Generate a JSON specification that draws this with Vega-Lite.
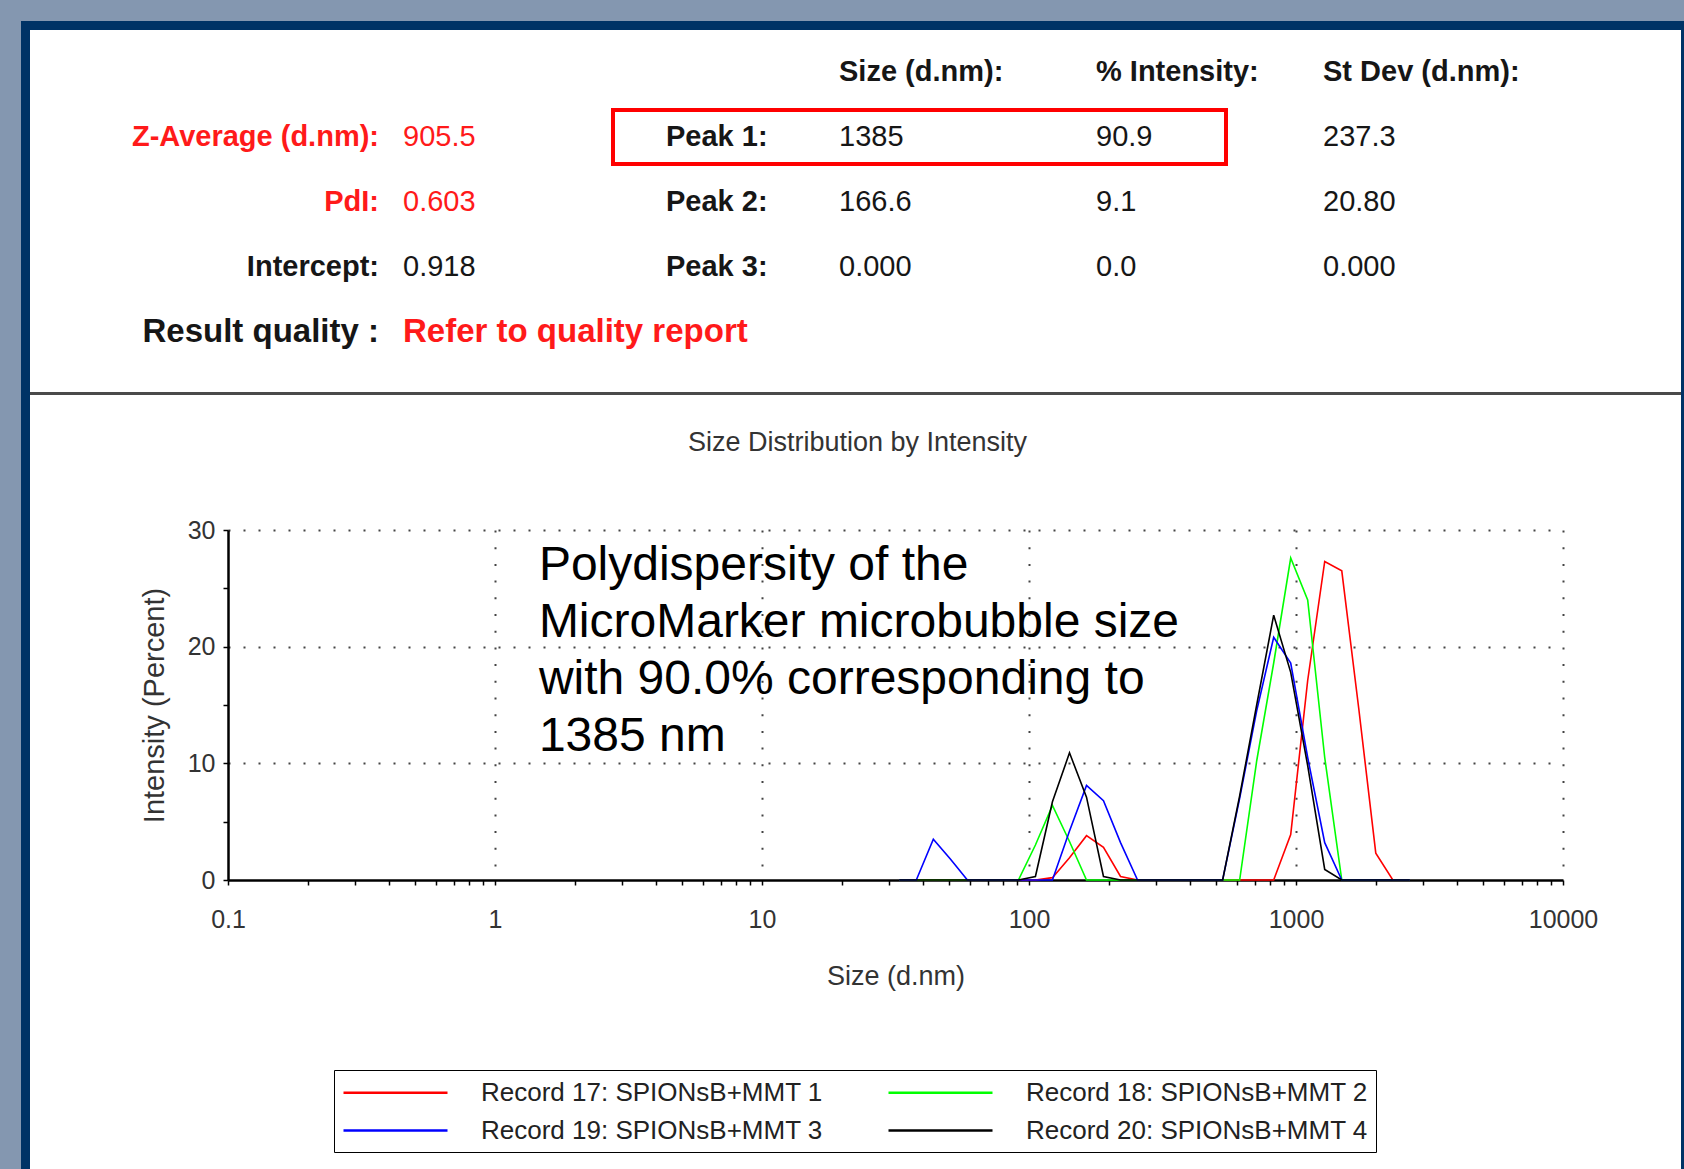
{
"$schema": "https://vega.github.io/schema/vega-lite/v6.json",
"background": "white",
"padding": 0,
"spacing": 0,
"config": {"view": {"stroke": null}, "font": "Liberation Sans", "concat": {"spacing": 0}},
"vconcat": [
 {"width": 1684, "height": 21, "data": {"values": []}, "mark": "point", "view": {"fill": "#8497b0", "stroke": null}},
 {"hconcat": [
  {"width": 21, "height": 1148, "data": {"values": []}, "mark": "point", "view": {"fill": "#8497b0", "stroke": null}},
  {"vconcat": [
   {"width": 1663, "height": 9, "data": {"values": []}, "mark": "point", "view": {"fill": "#003366", "stroke": null}},
   {"hconcat": [
    {"width": 9, "height": 1139, "data": {"values": []}, "mark": "point", "view": {"fill": "#003366", "stroke": null}},
    {"vconcat": [
     {"vconcat": [
      {
       "width": 1651, "height": 362,
       "data": {"values": [
        {"row":"hdr","col":"size","text":"Size (d.nm):","flag":"normal","role":"head"},
        {"row":"hdr","col":"intensity","text":"% Intensity:","flag":"normal","role":"head"},
        {"row":"hdr","col":"stdev","text":"St Dev (d.nm):","flag":"normal","role":"head"},
        {"row":"r1","col":"label","text":"Z-Average (d.nm):","flag":"alert","role":"head"},
        {"row":"r1","col":"value","text":"905.5","flag":"alert","role":"value"},
        {"row":"r1","col":"peak","text":"Peak 1:","flag":"normal","role":"head"},
        {"row":"r1","col":"size","text":"1385","flag":"normal","role":"value"},
        {"row":"r1","col":"intensity","text":"90.9","flag":"normal","role":"value"},
        {"row":"r1","col":"stdev","text":"237.3","flag":"normal","role":"value"},
        {"row":"r2","col":"label","text":"PdI:","flag":"alert","role":"head"},
        {"row":"r2","col":"value","text":"0.603","flag":"alert","role":"value"},
        {"row":"r2","col":"peak","text":"Peak 2:","flag":"normal","role":"head"},
        {"row":"r2","col":"size","text":"166.6","flag":"normal","role":"value"},
        {"row":"r2","col":"intensity","text":"9.1","flag":"normal","role":"value"},
        {"row":"r2","col":"stdev","text":"20.80","flag":"normal","role":"value"},
        {"row":"r3","col":"label","text":"Intercept:","flag":"normal","role":"head"},
        {"row":"r3","col":"value","text":"0.918","flag":"normal","role":"value"},
        {"row":"r3","col":"peak","text":"Peak 3:","flag":"normal","role":"head"},
        {"row":"r3","col":"size","text":"0.000","flag":"normal","role":"value"},
        {"row":"r3","col":"intensity","text":"0.0","flag":"normal","role":"value"},
        {"row":"r3","col":"stdev","text":"0.000","flag":"normal","role":"value"},
        {"row":"r4","col":"label","text":"Result quality :","flag":"normal","role":"quality"},
        {"row":"r4","col":"value","text":"Refer to quality report","flag":"alert","role":"quality"}
       ]},
       "encoding": {
        "x": {"field": "col", "type": "nominal", "scale": {"type": "point", "domain": ["label","value","peak","size","intensity","stdev"], "range": [349, 1293], "padding": 0}, "axis": null},
        "y": {"field": "row", "type": "nominal", "scale": {"type": "band", "domain": ["hdr","r1","r2","r3","r4"], "range": [9.5, 334.5], "paddingInner": 0.169, "paddingOuter": 0.085}, "axis": null},
        "text": {"field": "text"}
       },
       "layer": [
        {"transform": [{"filter": "datum.col === 'label' && datum.role === 'head' && datum.flag === 'alert'"}], "mark": {"type": "text", "align": "right", "baseline": "middle", "fontSize": 29, "fontWeight": "bold", "color": "#ff1a1a"}},
        {"transform": [{"filter": "datum.col === 'label' && datum.role === 'head' && datum.flag === 'normal'"}], "mark": {"type": "text", "align": "right", "baseline": "middle", "fontSize": 29, "fontWeight": "bold", "color": "#161616"}},
        {"transform": [{"filter": "datum.col === 'value' && datum.role === 'value' && datum.flag === 'alert'"}], "mark": {"type": "text", "align": "left", "baseline": "middle", "fontSize": 29, "dx": -164.8, "color": "#ff1a1a"}},
        {"transform": [{"filter": "datum.col === 'value' && datum.role === 'value' && datum.flag === 'normal'"}], "mark": {"type": "text", "align": "left", "baseline": "middle", "fontSize": 29, "dx": -164.8, "color": "#161616"}},
        {"transform": [{"filter": "datum.col === 'peak'"}], "mark": {"type": "text", "align": "left", "baseline": "middle", "fontSize": 29, "fontWeight": "bold", "dx": -90.6, "color": "#161616"}},
        {"transform": [{"filter": "datum.col === 'size' && datum.role === 'head'"}], "mark": {"type": "text", "align": "left", "baseline": "middle", "fontSize": 29, "fontWeight": "bold", "dx": -106.4, "color": "#161616"}},
        {"transform": [{"filter": "datum.col === 'size' && datum.role === 'value'"}], "mark": {"type": "text", "align": "left", "baseline": "middle", "fontSize": 29, "dx": -106.4, "color": "#161616"}},
        {"transform": [{"filter": "datum.col === 'intensity' && datum.role === 'head'"}], "mark": {"type": "text", "align": "left", "baseline": "middle", "fontSize": 29, "fontWeight": "bold", "dx": -38.2, "color": "#161616"}},
        {"transform": [{"filter": "datum.col === 'intensity' && datum.role === 'value'"}], "mark": {"type": "text", "align": "left", "baseline": "middle", "fontSize": 29, "dx": -38.2, "color": "#161616"}},
        {"transform": [{"filter": "datum.col === 'stdev' && datum.role === 'head'"}], "mark": {"type": "text", "align": "left", "baseline": "middle", "fontSize": 29, "fontWeight": "bold", "color": "#161616"}},
        {"transform": [{"filter": "datum.col === 'stdev' && datum.role === 'value'"}], "mark": {"type": "text", "align": "left", "baseline": "middle", "fontSize": 29, "color": "#161616"}},
        {"transform": [{"filter": "datum.col === 'label' && datum.role === 'quality'"}], "mark": {"type": "text", "align": "right", "baseline": "middle", "fontSize": 33, "fontWeight": "bold", "color": "#161616"}},
        {"transform": [{"filter": "datum.col === 'value' && datum.role === 'quality'"}], "mark": {"type": "text", "align": "left", "baseline": "middle", "fontSize": 33, "fontWeight": "bold", "dx": -164.8, "color": "#ff1a1a"}},
        {"transform": [{"filter": "datum.row === 'r1' && datum.col === 'peak'"}], "mark": {"type": "rect", "fill": null, "stroke": "#ff0000", "strokeWidth": 4, "xOffset": -143.6, "x2Offset": 91.8},
         "encoding": {"x2": {"datum": "intensity"}, "text": {"value": ""}}}
       ]
      },
      {"width": 1651, "height": 3, "data": {"values": []}, "mark": "point", "view": {"fill": "#4a4a4a", "stroke": null}}
     ]},
     {"hconcat": [
      {"width": 110, "height": 1, "data": {"values": []}, "mark": "point"},
      {
       "width": 1335, "height": 350,
       "title": {"text": "Size Distribution by Intensity", "fontSize": 27, "fontWeight": "normal", "color": "#333333", "anchor": "middle", "frame": "group", "dx": -38, "offset": 61},
       "data": {"values": [
        {"record":"Record 17: SPIONsB+MMT 1","size":32.67,"intensity":0},
        {"record":"Record 17: SPIONsB+MMT 1","size":37.84,"intensity":0},
        {"record":"Record 17: SPIONsB+MMT 1","size":43.82,"intensity":0},
        {"record":"Record 17: SPIONsB+MMT 1","size":50.75,"intensity":0},
        {"record":"Record 17: SPIONsB+MMT 1","size":58.77,"intensity":0},
        {"record":"Record 17: SPIONsB+MMT 1","size":68.06,"intensity":0},
        {"record":"Record 17: SPIONsB+MMT 1","size":78.82,"intensity":0},
        {"record":"Record 17: SPIONsB+MMT 1","size":91.28,"intensity":0},
        {"record":"Record 17: SPIONsB+MMT 1","size":105.7,"intensity":0},
        {"record":"Record 17: SPIONsB+MMT 1","size":122.4,"intensity":0.2},
        {"record":"Record 17: SPIONsB+MMT 1","size":141.8,"intensity":1.9},
        {"record":"Record 17: SPIONsB+MMT 1","size":164.2,"intensity":3.8},
        {"record":"Record 17: SPIONsB+MMT 1","size":190.1,"intensity":2.8},
        {"record":"Record 17: SPIONsB+MMT 1","size":220.2,"intensity":0.3},
        {"record":"Record 17: SPIONsB+MMT 1","size":255.0,"intensity":0},
        {"record":"Record 17: SPIONsB+MMT 1","size":295.3,"intensity":0},
        {"record":"Record 17: SPIONsB+MMT 1","size":342.0,"intensity":0},
        {"record":"Record 17: SPIONsB+MMT 1","size":396.1,"intensity":0},
        {"record":"Record 17: SPIONsB+MMT 1","size":458.7,"intensity":0},
        {"record":"Record 17: SPIONsB+MMT 1","size":531.2,"intensity":0},
        {"record":"Record 17: SPIONsB+MMT 1","size":615.1,"intensity":0},
        {"record":"Record 17: SPIONsB+MMT 1","size":712.4,"intensity":0},
        {"record":"Record 17: SPIONsB+MMT 1","size":825.0,"intensity":0},
        {"record":"Record 17: SPIONsB+MMT 1","size":955.4,"intensity":3.9},
        {"record":"Record 17: SPIONsB+MMT 1","size":1106,"intensity":17.1},
        {"record":"Record 17: SPIONsB+MMT 1","size":1281,"intensity":27.3},
        {"record":"Record 17: SPIONsB+MMT 1","size":1484,"intensity":26.5},
        {"record":"Record 17: SPIONsB+MMT 1","size":1718,"intensity":14.7},
        {"record":"Record 17: SPIONsB+MMT 1","size":1990,"intensity":2.3},
        {"record":"Record 17: SPIONsB+MMT 1","size":2305,"intensity":0},
        {"record":"Record 17: SPIONsB+MMT 1","size":2669,"intensity":0},
        {"record":"Record 18: SPIONsB+MMT 2","size":32.67,"intensity":0},
        {"record":"Record 18: SPIONsB+MMT 2","size":37.84,"intensity":0},
        {"record":"Record 18: SPIONsB+MMT 2","size":43.82,"intensity":0},
        {"record":"Record 18: SPIONsB+MMT 2","size":50.75,"intensity":0},
        {"record":"Record 18: SPIONsB+MMT 2","size":58.77,"intensity":0},
        {"record":"Record 18: SPIONsB+MMT 2","size":68.06,"intensity":0},
        {"record":"Record 18: SPIONsB+MMT 2","size":78.82,"intensity":0},
        {"record":"Record 18: SPIONsB+MMT 2","size":91.28,"intensity":0},
        {"record":"Record 18: SPIONsB+MMT 2","size":105.7,"intensity":3.0},
        {"record":"Record 18: SPIONsB+MMT 2","size":122.4,"intensity":6.4},
        {"record":"Record 18: SPIONsB+MMT 2","size":141.8,"intensity":3.3},
        {"record":"Record 18: SPIONsB+MMT 2","size":164.2,"intensity":0},
        {"record":"Record 18: SPIONsB+MMT 2","size":190.1,"intensity":0},
        {"record":"Record 18: SPIONsB+MMT 2","size":220.2,"intensity":0},
        {"record":"Record 18: SPIONsB+MMT 2","size":255.0,"intensity":0},
        {"record":"Record 18: SPIONsB+MMT 2","size":295.3,"intensity":0},
        {"record":"Record 18: SPIONsB+MMT 2","size":342.0,"intensity":0},
        {"record":"Record 18: SPIONsB+MMT 2","size":396.1,"intensity":0},
        {"record":"Record 18: SPIONsB+MMT 2","size":458.7,"intensity":0},
        {"record":"Record 18: SPIONsB+MMT 2","size":531.2,"intensity":0},
        {"record":"Record 18: SPIONsB+MMT 2","size":615.1,"intensity":0},
        {"record":"Record 18: SPIONsB+MMT 2","size":712.4,"intensity":10.2},
        {"record":"Record 18: SPIONsB+MMT 2","size":825.0,"intensity":18.6},
        {"record":"Record 18: SPIONsB+MMT 2","size":955.4,"intensity":27.6},
        {"record":"Record 18: SPIONsB+MMT 2","size":1106,"intensity":24.0},
        {"record":"Record 18: SPIONsB+MMT 2","size":1281,"intensity":10.5},
        {"record":"Record 18: SPIONsB+MMT 2","size":1484,"intensity":0},
        {"record":"Record 18: SPIONsB+MMT 2","size":1718,"intensity":0},
        {"record":"Record 18: SPIONsB+MMT 2","size":1990,"intensity":0},
        {"record":"Record 18: SPIONsB+MMT 2","size":2305,"intensity":0},
        {"record":"Record 18: SPIONsB+MMT 2","size":2669,"intensity":0},
        {"record":"Record 19: SPIONsB+MMT 3","size":32.67,"intensity":0},
        {"record":"Record 19: SPIONsB+MMT 3","size":37.84,"intensity":0},
        {"record":"Record 19: SPIONsB+MMT 3","size":43.82,"intensity":3.5},
        {"record":"Record 19: SPIONsB+MMT 3","size":50.75,"intensity":1.8},
        {"record":"Record 19: SPIONsB+MMT 3","size":58.77,"intensity":0},
        {"record":"Record 19: SPIONsB+MMT 3","size":68.06,"intensity":0},
        {"record":"Record 19: SPIONsB+MMT 3","size":78.82,"intensity":0},
        {"record":"Record 19: SPIONsB+MMT 3","size":91.28,"intensity":0},
        {"record":"Record 19: SPIONsB+MMT 3","size":105.7,"intensity":0},
        {"record":"Record 19: SPIONsB+MMT 3","size":122.4,"intensity":0},
        {"record":"Record 19: SPIONsB+MMT 3","size":141.8,"intensity":4.2},
        {"record":"Record 19: SPIONsB+MMT 3","size":164.2,"intensity":8.1},
        {"record":"Record 19: SPIONsB+MMT 3","size":190.1,"intensity":6.8},
        {"record":"Record 19: SPIONsB+MMT 3","size":220.2,"intensity":3.2},
        {"record":"Record 19: SPIONsB+MMT 3","size":255.0,"intensity":0},
        {"record":"Record 19: SPIONsB+MMT 3","size":295.3,"intensity":0},
        {"record":"Record 19: SPIONsB+MMT 3","size":342.0,"intensity":0},
        {"record":"Record 19: SPIONsB+MMT 3","size":396.1,"intensity":0},
        {"record":"Record 19: SPIONsB+MMT 3","size":458.7,"intensity":0},
        {"record":"Record 19: SPIONsB+MMT 3","size":531.2,"intensity":0},
        {"record":"Record 19: SPIONsB+MMT 3","size":615.1,"intensity":7.0},
        {"record":"Record 19: SPIONsB+MMT 3","size":712.4,"intensity":14.5},
        {"record":"Record 19: SPIONsB+MMT 3","size":825.0,"intensity":20.8},
        {"record":"Record 19: SPIONsB+MMT 3","size":955.4,"intensity":18.6},
        {"record":"Record 19: SPIONsB+MMT 3","size":1106,"intensity":10.5},
        {"record":"Record 19: SPIONsB+MMT 3","size":1281,"intensity":3.2},
        {"record":"Record 19: SPIONsB+MMT 3","size":1484,"intensity":0},
        {"record":"Record 19: SPIONsB+MMT 3","size":1718,"intensity":0},
        {"record":"Record 19: SPIONsB+MMT 3","size":1990,"intensity":0},
        {"record":"Record 19: SPIONsB+MMT 3","size":2305,"intensity":0},
        {"record":"Record 19: SPIONsB+MMT 3","size":2669,"intensity":0},
        {"record":"Record 20: SPIONsB+MMT 4","size":32.67,"intensity":0},
        {"record":"Record 20: SPIONsB+MMT 4","size":37.84,"intensity":0},
        {"record":"Record 20: SPIONsB+MMT 4","size":43.82,"intensity":0},
        {"record":"Record 20: SPIONsB+MMT 4","size":50.75,"intensity":0},
        {"record":"Record 20: SPIONsB+MMT 4","size":58.77,"intensity":0},
        {"record":"Record 20: SPIONsB+MMT 4","size":68.06,"intensity":0},
        {"record":"Record 20: SPIONsB+MMT 4","size":78.82,"intensity":0},
        {"record":"Record 20: SPIONsB+MMT 4","size":91.28,"intensity":0},
        {"record":"Record 20: SPIONsB+MMT 4","size":105.7,"intensity":0.3},
        {"record":"Record 20: SPIONsB+MMT 4","size":122.4,"intensity":6.7},
        {"record":"Record 20: SPIONsB+MMT 4","size":141.8,"intensity":10.9},
        {"record":"Record 20: SPIONsB+MMT 4","size":164.2,"intensity":7.1},
        {"record":"Record 20: SPIONsB+MMT 4","size":190.1,"intensity":0.3},
        {"record":"Record 20: SPIONsB+MMT 4","size":220.2,"intensity":0},
        {"record":"Record 20: SPIONsB+MMT 4","size":255.0,"intensity":0},
        {"record":"Record 20: SPIONsB+MMT 4","size":295.3,"intensity":0},
        {"record":"Record 20: SPIONsB+MMT 4","size":342.0,"intensity":0},
        {"record":"Record 20: SPIONsB+MMT 4","size":396.1,"intensity":0},
        {"record":"Record 20: SPIONsB+MMT 4","size":458.7,"intensity":0},
        {"record":"Record 20: SPIONsB+MMT 4","size":531.2,"intensity":0},
        {"record":"Record 20: SPIONsB+MMT 4","size":615.1,"intensity":7.2},
        {"record":"Record 20: SPIONsB+MMT 4","size":712.4,"intensity":15.0},
        {"record":"Record 20: SPIONsB+MMT 4","size":825.0,"intensity":22.7},
        {"record":"Record 20: SPIONsB+MMT 4","size":955.4,"intensity":17.8},
        {"record":"Record 20: SPIONsB+MMT 4","size":1106,"intensity":9.8},
        {"record":"Record 20: SPIONsB+MMT 4","size":1281,"intensity":0.9},
        {"record":"Record 20: SPIONsB+MMT 4","size":1484,"intensity":0},
        {"record":"Record 20: SPIONsB+MMT 4","size":1718,"intensity":0},
        {"record":"Record 20: SPIONsB+MMT 4","size":1990,"intensity":0},
        {"record":"Record 20: SPIONsB+MMT 4","size":2305,"intensity":0},
        {"record":"Record 20: SPIONsB+MMT 4","size":2669,"intensity":0}
       ]},
       "layer": [
        {
         "mark": {"type": "line", "strokeWidth": 1.6},
         "encoding": {
          "x": {"field": "size", "type": "quantitative",
           "scale": {"type": "log", "domain": [0.1, 10000], "nice": false},
           "axis": {
            "title": "Size (d.nm)",
            "values": [0.1,0.2,0.3,0.4,0.5,0.6,0.7,0.8,0.9,1,2,3,4,5,6,7,8,9,10,20,30,40,50,60,70,80,90,100,200,300,400,500,600,700,800,900,1000,2000,3000,4000,5000,6000,7000,8000,9000,10000],
            "format": "~g",
            "labelExpr": "indexof([0.1,1,10,100,1000,10000], datum.value) >= 0 ? datum.label : ''",
            "labelOverlap": false, "labelFlush": false,
            "grid": true,
            "gridOpacity": {"condition": {"test": "indexof([1,10,100,1000,10000], datum.value) >= 0", "value": 1}, "value": 0},
            "gridDash": [2, 14.7], "gridColor": "#444444", "gridWidth": 2,
            "domainColor": "#000000", "domainWidth": 2.5,
            "tickColor": "#000000", "tickWidth": 1.5, "tickSize": 5,
            "labelFontSize": 25, "labelColor": "#333333", "labelPadding": 22,
            "titleFontSize": 27, "titleFontWeight": "normal", "titleColor": "#333333", "titlePadding": 31
           }},
          "y": {"field": "intensity", "type": "quantitative",
           "scale": {"domain": [0, 30], "nice": false},
           "axis": {
            "title": "Intensity (Percent)",
            "values": [0,5,10,15,20,25,30],
            "labelExpr": "datum.value % 10 === 0 ? datum.label : ''",
            "grid": true,
            "gridOpacity": {"condition": {"test": "datum.value % 10 === 0 && datum.value > 0", "value": 1}, "value": 0},
            "gridDash": [2, 13], "gridColor": "#444444", "gridWidth": 2,
            "domainColor": "#000000", "domainWidth": 2.5,
            "tickColor": "#000000", "tickWidth": 1.5, "tickSize": 5,
            "labelFontSize": 25, "labelColor": "#333333", "labelPadding": 8,
            "titleFontSize": 29, "titleFontWeight": "normal", "titleColor": "#333333", "titlePadding": 18
           }},
          "color": {"field": "record", "type": "nominal",
           "scale": {"domain": ["Record 17: SPIONsB+MMT 1","Record 18: SPIONsB+MMT 2","Record 19: SPIONsB+MMT 3","Record 20: SPIONsB+MMT 4"], "range": ["#ff0000","#00ff00","#0000ff","#000000"]},
           "legend": {
            "title": null, "orient": "none", "legendX": 334, "legendY": 1070,
            "direction": "horizontal", "columns": 2,
            "symbolType": "M-1,0H7", "symbolSize": 676, "symbolStrokeWidth": 2.5,
            "labelFontSize": 26, "labelColor": "#222222", "labelLimit": 600, "labelOffset": 110,
            "columnPadding": 60, "rowPadding": 10, "padding": 8,
            "strokeColor": "#000000"
           }}
         }
        },
        {
         "data": {"values": [{"note": "Polydispersity of the\nMicroMarker microbubble size\nwith 90.0% corresponding to\n1385 nm"}]},
         "mark": {"type": "text", "align": "left", "baseline": "middle", "fontSize": 48, "lineHeight": 57, "lineBreak": "\n", "color": "#000000"},
         "encoding": {
          "x": {"datum": 1.46, "type": "quantitative"},
          "y": {"datum": 26.9, "type": "quantitative"},
          "text": {"field": "note"}
         }
        }
       ]
      }
     ]}
    ], "spacing": 34},
    {"width": 3, "height": 1139, "data": {"values": []}, "mark": "point", "view": {"fill": "#003366", "stroke": null}}
   ]}
  ]}
 ]}
]
}
